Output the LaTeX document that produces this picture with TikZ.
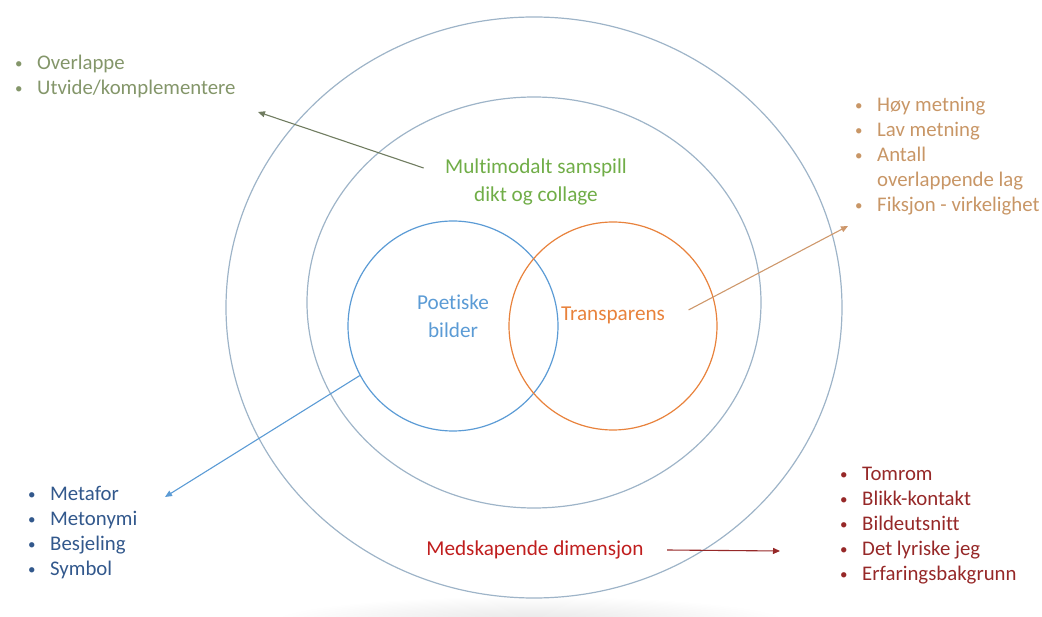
\documentclass[tikz,border=0pt]{standalone}
\usepackage{fontspec}
\setmainfont{Carlito}[Ligatures=NoCommon]
\usetikzlibrary{shapes.geometric,arrows.meta}

\definecolor{ringgraa}{RGB}{158,180,200}
\definecolor{poetblaa}{RGB}{91,155,213}
\definecolor{transoransje}{RGB}{232,130,60}
\definecolor{multigronn}{RGB}{112,173,71}
\definecolor{medrod}{RGB}{192,30,30}
\definecolor{listegronn}{RGB}{132,150,106}
\definecolor{listebrun}{RGB}{200,150,102}
\definecolor{listeblaa}{RGB}{50,88,140}
\definecolor{listerod}{RGB}{150,40,40}
\definecolor{pilgronn}{RGB}{112,124,96}
\definecolor{pilbrun}{RGB}{206,152,108}

\newcommand{\pkt}{\makebox[23pt][l]{\hspace*{1pt}\raisebox{1pt}{\fontsize{15}{15}\selectfont\textbullet}}}
\newcommand{\inn}{\hspace*{23pt}}

\tikzset{
  ring/.style={ellipse,draw=ringgraa,line width=1.2pt,inner sep=0pt},
  sirkel/.style={circle,line width=1.2pt,inner sep=0pt,minimum size=210pt},
  etikett/.style={font=\fontsize{21.2}{28}\selectfont,align=center},
  liste/.style={font=\fontsize{20.8}{25}\selectfont,align=left,anchor=north west,inner sep=0pt},
  pil/.style={-{Triangle[length=7pt,width=6pt]},line width=1.1pt}
}

\begin{document}
\begin{tikzpicture}[x=1pt,y=-1pt]
        \useasboundingbox (0,0) rectangle (1042,617);
        \begin{scope}
          \clip (0,0) rectangle (1042,617);
          \shade[inner color=black!10,outer color=white] (530,622) ellipse (260pt and 26pt);
        \end{scope}
        % ringene
        \draw (534,307.5) node[ring,minimum width=616pt,minimum height=581pt](ytre){};
        \draw (534,302.5) node[ring,minimum width=454pt,minimum height=411pt](midt){};
        \draw (453,326) node[sirkel,draw=poetblaa](pcirc){};
        \draw (613,326) node[sirkel,draw=transoransje,minimum size=208pt](tcirc){};
        % tekstene
        \draw (536,182) node[etikett,text=multigronn](multi){Multimodalt samspill\\dikt og collage};
        \draw (453,316) node[etikett,text=poetblaa](poet){Poetiske\\bilder};
        \draw (613,315) node[etikett,text=transoransje](transp){Transparens};
        \draw (535,550) node[etikett,text=medrod](medsk){Medskapende dimensjon};
        % listene
        \draw (14,51.5) node[liste,text=listegronn](overl){\strut\pkt Overlappe\\\pkt Utvide/komplementere};
        \draw (854,94) node[liste,text=listebrun](hoy){\strut\pkt Høy metning\\\pkt Lav metning\\\pkt Antall\\\inn overlappende lag\\\pkt Fiksjon - virkelighet};
        \draw (27,483) node[liste,text=listeblaa](metaf){\strut\pkt Metafor\\\pkt Metonymi\\\pkt Besjeling\\\pkt Symbol};
        \draw (839,463) node[liste,text=listerod](tomr){\strut\pkt Tomrom\\\pkt Blikk-kontakt\\\pkt Bildeutsnitt\\\pkt Det lyriske jeg\\\pkt Erfaringsbakgrunn};
        % pilene
        \coordinate (overlpil) at (258,112);
        \coordinate (hoypil) at (848,226);
        \coordinate (metafpil) at (165,497);
        \coordinate (tomrpil) at (780,551);
        \draw[pil,pilgronn] ([xshift=-18pt,yshift=14pt]multi.west) -- (overlpil);
        \draw[pil,pilbrun] ([xshift=20pt,yshift=5pt]transp.east) -- (hoypil);
        \draw[pil,poetblaa] (pcirc.208) -- (metafpil);
        \draw[pil,listerod] ([xshift=20pt]medsk.east) -- (tomrpil);
      \end{tikzpicture}
\end{document}
